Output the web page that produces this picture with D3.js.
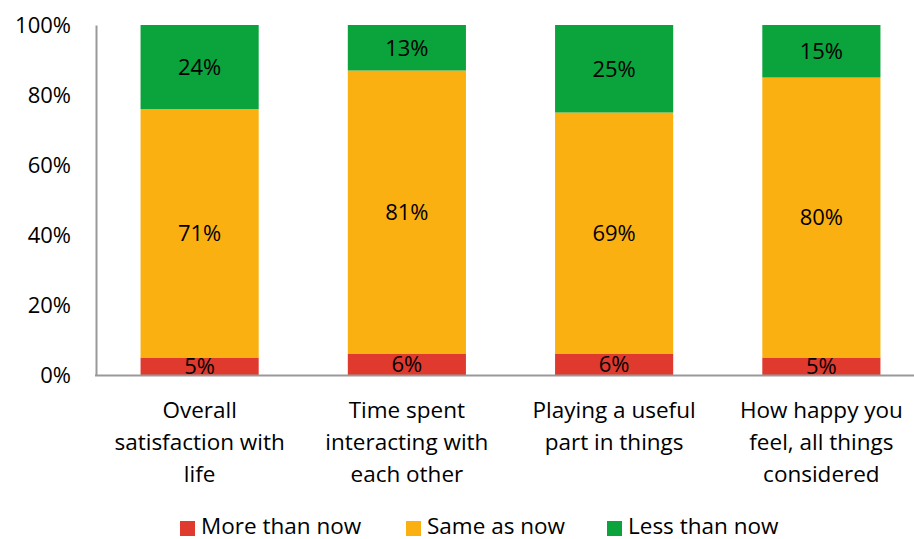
<!DOCTYPE html>
<html><head><meta charset="utf-8">
<script src="https://cdn.jsdelivr.net/npm/d3@7"></script>
<style>body{margin:0;background:#fff}svg{display:block}text{font-family:"Open Sans",sans-serif;fill:#000}</style>
</head><body><svg id="c" width="914" height="539"></svg>
<script>
const categories = [["Overall","satisfaction with","life"],["Time spent","interacting with","each other"],["Playing a useful","part in things"],["How happy you","feel, all things","considered"]];
const seriesNames = ["More than now","Same as now","Less than now"];
const moreThanNow = [5,6,6,5];
const sameAsNow = [71,81,69,80];
const lessThanNow = [24,13,25,15];
const yTicks = [0,20,40,60,80,100];
const colors = ["#E03A2F","#FBB011","#0BA33C"];

const svg = d3.select("#c");
const x = d3.scaleBand().domain(d3.range(categories.length)).range([96,925]).paddingInner(0.43).paddingOuter(0.215);
const y = d3.scaleLinear().domain([0,100]).range([375,25]);
const data = categories.map((c,i)=>({i, v:[moreThanNow[i],sameAsNow[i],lessThanNow[i]]}));
const stack = d3.stack().keys([0,1,2]).value((d,k)=>d.v[k]);
const layers = stack(data);

const g = svg.append("g");
layers.forEach((layer,k)=>{
  g.selectAll(null).data(layer).enter().append("rect")
    .attr("x",d=>x(d.data.i)).attr("width",x.bandwidth())
    .attr("y",d=>y(d[1])).attr("height",d=>y(d[0])-y(d[1]))
    .attr("fill",colors[k]);
  g.selectAll(null).data(layer).enter().append("text")
    .attr("x",d=>x(d.data.i)+x.bandwidth()/2)
    .attr("y",d=>(y(d[0])+y(d[1]))/2)
    .attr("dy","0.36em").attr("text-anchor","middle").attr("font-size",22)
    .text(d=>d.data.v[k]+"%");
});

// axes
const ya = svg.append("g").attr("transform","translate(96,0)")
  .call(d3.axisLeft(y).tickValues(yTicks).tickFormat(d=>d+"%").tickSize(0).tickPadding(25));
ya.select(".domain").attr("stroke","#999").attr("stroke-width",2);
ya.selectAll("text").attr("font-size",22).style("font-family","'Open Sans',sans-serif").attr("fill","#000");
svg.append("line").attr("x1",95).attr("x2",914).attr("y1",375.5).attr("y2",375.5).attr("stroke","#999").attr("stroke-width",2);

// category labels
categories.forEach((lines,i)=>{
  const cx = x(i)+x.bandwidth()/2;
  const t = svg.append("text").attr("text-anchor","middle").attr("font-size",22.5).attr("x",cx).attr("y",418);
  lines.forEach((l,j)=>t.append("tspan").attr("x",cx).attr("y",418+j*32).text(l));
});

// legend
const legX = [180,406,607];
seriesNames.forEach((n,k)=>{
  svg.append("rect").attr("x",legX[k]).attr("y",521).attr("width",15).attr("height",15).attr("fill",colors[k]);
  svg.append("text").attr("x",legX[k]+21).attr("y",533.5).attr("font-size",22.5).text(n);
});
</script></body></html>
